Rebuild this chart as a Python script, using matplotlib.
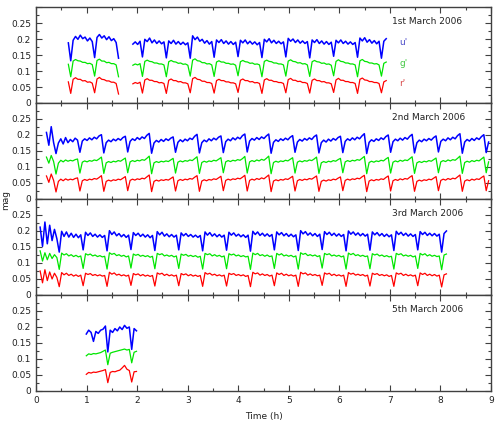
import numpy as np
import matplotlib

matplotlib.use("Agg")
import matplotlib.pyplot as plt
from matplotlib.ticker import FuncFormatter, MultipleLocator

# light-curve samples, milli-mag, on a uniform grid per night
STEP_H = 0.04727  # one tenth of the ~28.4 min cycle
NIGHTS = ["1st March 2006", "2nd March 2006", "3rd March 2006", "5th March 2006"]
NIGHT_START_H = [0.640, 0.207, 0.082, 0.995]
BANDS = ["u'", "g'", "r'"]

U1 = [188,
      132, 196, 208, 199, 212, 201, 206, 194, 203, 192,
      142, 205, 214, 203, 210, 198, 207, 195, 201, 189,
      140, None, None, None, None, None, 184, 191, 183, 193,
      144, 199, 192, 203, 188, 197, 186, 194, 185, 191,
      141, 194, 186, 196, 184, 192, 183, 190, 182, 188,
      140, 210, 198, 206, 193, 199, 187, 195, 184, 192,
      143, 197, 189, 198, 186, 194, 184, 192, 183, 190,
      145, 196, 188, 197, 185, 193, 184, 191, 182, 189,
      142, 199, 191, 201, 188, 196, 186, 193, 185, 191,
      144, 202, 193, 200, 189, 197, 187, 194, 186, 192,
      141, 197, 189, 198, 186, 194, 184, 192, 183, 190,
      146, 196, 188, 197, 186, 193, 184, 191, 183, 189,
      143, 203, 194, 204, 190, 198, 187, 195, 185, 193,
      140, 193, 201]
G1 = [121,
      82, 131, 136, 132, 131, 127, 127, 123, 124, 120,
      84, 133, 137, 131, 131, 126, 127, 123, 123, 119,
      82, None, None, None, None, None, 118, 122, 119, 123,
      83, 130, 134, 130, 129, 125, 125, 122, 122, 119,
      82, 129, 133, 129, 128, 124, 125, 121, 122, 118,
      84, 134, 138, 132, 131, 126, 126, 122, 123, 119,
      83, 128, 132, 128, 128, 124, 124, 121, 122, 118,
      85, 129, 133, 129, 128, 124, 125, 121, 122, 119,
      82, 130, 134, 130, 129, 125, 125, 122, 122, 119,
      84, 131, 135, 130, 129, 125, 126, 122, 123, 119,
      83, 129, 133, 129, 128, 124, 125, 121, 122, 118,
      85, 130, 135, 130, 129, 125, 125, 122, 122, 119,
      82, 132, 136, 130, 129, 125, 125, 122, 123, 119,
      84, 124, 128]
R1 = [66,
      30, 74, 79, 74, 74, 69, 70, 65, 66, 62,
      32, 75, 80, 74, 73, 69, 69, 65, 65, 61,
      28, None, None, None, None, None, 60, 64, 61, 65,
      31, 72, 76, 71, 71, 67, 67, 63, 64, 61,
      30, 71, 75, 70, 70, 66, 67, 63, 63, 60,
      32, 76, 80, 74, 73, 68, 68, 64, 64, 61,
      31, 70, 74, 70, 70, 66, 66, 63, 63, 60,
      33, 71, 75, 70, 70, 66, 67, 63, 64, 61,
      30, 72, 76, 71, 71, 67, 67, 64, 64, 61,
      32, 73, 77, 71, 71, 67, 68, 64, 64, 61,
      31, 71, 75, 70, 70, 66, 67, 63, 63, 60,
      33, 72, 77, 71, 71, 67, 67, 64, 64, 61,
      30, 74, 78, 72, 71, 67, 67, 64, 64, 61,
      32, 66, 70]

U2 = [208, 168, 226, 176,
      142, 175, 188, 172, 192, 176, 186, 179, 190, 184,
      146, 181, 188, 183, 191, 185, 193, 188, 197, 201,
      144, 176, 184, 179, 187, 182, 189, 184, 192, 196,
      147, 180, 188, 183, 192, 186, 194, 189, 199, 205,
      143, 175, 183, 178, 186, 180, 188, 183, 190, 194,
      146, 177, 185, 179, 187, 182, 190, 186, 196, 202,
      144, 176, 184, 179, 188, 182, 190, 185, 193, 197,
      145, 179, 187, 182, 191, 185, 193, 188, 198, 203,
      147, 181, 189, 184, 192, 186, 194, 189, 197, 203,
      143, 177, 185, 180, 188, 183, 190, 185, 193, 198,
      146, 178, 186, 181, 189, 184, 191, 186, 195, 200,
      144, 176, 184, 178, 187, 181, 189, 184, 192, 196,
      145, 180, 188, 183, 191, 185, 193, 188, 197, 204,
      142, 177, 185, 180, 188, 183, 191, 186, 195, 200,
      146, 179, 187, 182, 190, 184, 192, 187, 196, 202,
      144, 176, 184, 179, 187, 182, 189, 184, 192, 197,
      147, 180, 187, 182, 191, 185, 193, 188, 198, 204,
      143, 178, 186, 181, 189, 183, 191, 186, 195, 201,
      145, 178]
G2 = [131, 112, 136, 117,
      78, 112, 121, 116, 122, 118, 121, 119, 123, 125,
      81, 115, 119, 116, 120, 118, 122, 120, 125, 131,
      80, 113, 117, 114, 118, 116, 120, 118, 123, 128,
      82, 116, 120, 117, 121, 119, 123, 121, 127, 134,
      79, 113, 117, 114, 118, 116, 119, 117, 122, 127,
      81, 115, 119, 116, 120, 118, 122, 120, 126, 132,
      80, 114, 118, 115, 119, 117, 121, 119, 124, 129,
      82, 116, 120, 117, 121, 119, 123, 121, 126, 133,
      81, 116, 120, 117, 122, 119, 124, 121, 127, 134,
      79, 114, 118, 115, 119, 117, 121, 119, 124, 129,
      81, 115, 119, 116, 120, 118, 122, 120, 125, 131,
      80, 113, 117, 114, 118, 116, 120, 118, 123, 127,
      82, 116, 120, 117, 121, 119, 123, 121, 127, 133,
      79, 114, 118, 115, 119, 117, 121, 119, 125, 130,
      81, 115, 119, 116, 121, 118, 122, 120, 126, 132,
      80, 113, 117, 114, 118, 116, 120, 118, 123, 128,
      82, 116, 120, 117, 122, 119, 123, 121, 127, 134,
      80, 114, 118, 115, 120, 117, 121, 119, 125, 131,
      82, 116]
R2 = [72, 52, 78, 58,
      22, 55, 62, 57, 63, 59, 62, 60, 64, 66,
      25, 57, 61, 58, 62, 60, 64, 62, 67, 73,
      24, 55, 59, 56, 60, 58, 62, 60, 65, 70,
      26, 58, 62, 59, 63, 61, 65, 63, 69, 75,
      23, 55, 59, 56, 60, 58, 61, 59, 64, 69,
      25, 57, 61, 58, 62, 60, 64, 62, 68, 73,
      24, 56, 60, 57, 61, 59, 63, 61, 66, 71,
      26, 58, 62, 59, 63, 61, 65, 63, 68, 74,
      25, 58, 62, 59, 64, 61, 66, 63, 69, 75,
      23, 56, 60, 57, 61, 59, 63, 61, 66, 71,
      25, 57, 61, 58, 62, 60, 64, 62, 67, 72,
      24, 55, 59, 56, 60, 58, 62, 60, 65, 69,
      26, 58, 62, 59, 63, 61, 65, 63, 69, 74,
      23, 56, 60, 57, 61, 59, 63, 61, 67, 72,
      25, 57, 61, 58, 63, 60, 64, 62, 68, 73,
      24, 55, 59, 56, 60, 58, 62, 60, 65, 70,
      26, 58, 62, 59, 64, 61, 65, 63, 69, 75,
      24, 56, 60, 57, 62, 59, 63, 61, 67, 72,
      26, 57]

U3 = [212, 152, 228, 160, 218, 170, 205, 176,
      134, 199, 183, 197, 181, 193, 180, 190, 179, 188,
      141, 196, 186, 194, 183, 190, 181, 188, 180, 186,
      138, 201, 189, 197, 185, 192, 182, 189, 180, 187,
      142, 195, 186, 193, 183, 190, 181, 188, 179, 186,
      139, 198, 188, 196, 184, 191, 182, 189, 181, 187,
      141, 194, 185, 192, 183, 189, 181, 187, 180, 186,
      138, 197, 187, 195, 184, 191, 182, 189, 181, 187,
      140, 196, 187, 194, 184, 190, 182, 188, 180, 187,
      137, 199, 189, 197, 186, 193, 184, 191, 183, 189,
      141, 197, 188, 195, 185, 192, 183, 190, 182, 188,
      139, 201, 191, 198, 187, 194, 185, 192, 183, 190,
      142, 198, 189, 196, 186, 193, 184, 191, 183, 189,
      138, 200, 190, 197, 187, 194, 185, 192, 184, 190,
      140, 197, 188, 195, 185, 192, 183, 190, 182, 188,
      139, 199, 189, 196, 186, 193, 184, 191, 183, 189,
      141, 198, 189, 196, 186, 193, 185, 192, 184, 190,
      134, 192, 200]
G3 = [138, 106, 132, 110, 130, 114, 126, 117,
      80, 131, 125, 129, 122, 126, 120, 124, 119, 122,
      83, 129, 125, 128, 122, 125, 120, 123, 119, 121,
      81, 132, 127, 130, 123, 126, 121, 124, 119, 122,
      84, 128, 124, 127, 121, 124, 120, 123, 118, 121,
      82, 130, 126, 129, 122, 125, 121, 124, 119, 122,
      83, 128, 124, 127, 121, 124, 120, 123, 118, 121,
      81, 130, 126, 129, 122, 126, 121, 124, 119, 122,
      82, 129, 125, 128, 122, 125, 120, 123, 119, 121,
      80, 131, 126, 130, 123, 126, 121, 125, 120, 122,
      83, 130, 125, 129, 122, 125, 121, 124, 119, 122,
      81, 132, 127, 130, 123, 126, 122, 125, 120, 123,
      84, 130, 126, 129, 122, 125, 121, 124, 119, 122,
      81, 131, 126, 130, 123, 126, 121, 124, 120, 122,
      82, 129, 125, 128, 122, 125, 120, 123, 119, 121,
      81, 130, 126, 129, 122, 125, 121, 124, 119, 122,
      83, 130, 125, 129, 122, 126, 121, 124, 120, 122,
      79, 125, 128]
R3 = [75, 38, 79, 45, 72, 50, 68, 55,
      26, 70, 63, 68, 61, 65, 59, 63, 58, 62,
      29, 68, 64, 67, 61, 64, 60, 63, 59, 61,
      27, 71, 65, 69, 62, 65, 60, 63, 59, 62,
      30, 67, 63, 66, 60, 64, 59, 62, 58, 61,
      28, 69, 65, 68, 61, 65, 60, 63, 59, 62,
      29, 67, 63, 66, 60, 64, 59, 62, 58, 61,
      27, 70, 65, 68, 62, 65, 60, 63, 59, 62,
      28, 68, 64, 67, 61, 64, 60, 63, 58, 61,
      26, 71, 66, 69, 62, 66, 61, 64, 59, 62,
      29, 69, 64, 68, 61, 65, 60, 63, 59, 62,
      27, 71, 66, 69, 62, 66, 61, 64, 60, 62,
      30, 69, 65, 68, 61, 65, 60, 63, 59, 62,
      27, 70, 65, 68, 62, 65, 61, 64, 59, 62,
      28, 68, 64, 67, 61, 64, 60, 63, 58, 61,
      27, 69, 65, 68, 61, 65, 60, 63, 59, 62,
      29, 69, 64, 68, 61, 65, 60, 64, 59, 62,
      25, 63, 66]

U4 = [178, 190, 183, 155, 186, 180, 190, 193, 203, 122, 190,
      183, 195, 188, 200, 192, 205, 196, 200, 130, 195, 188]
G4 = [110, 116, 114, 117, 116, 118, 120, 124, 128, 82, 118,
      121, 123, 125, 127, 129, 131, 128, 130, 88, 121, 124]
R4 = [52, 58, 56, 59, 58, 60, 62, 64, 67, 26, 58,
      61, 60, 63, 65, 72, 80, 68, 64, 28, 60, 61]

SERIES = [(U1, G1, R1), (U2, G2, R2), (U3, G3, R3), (U4, G4, R4)]

LINE_COLOURS = ["#0000ff", "#00e600", "#ff0000"]
LABEL_COLOURS = ["#4a4ac8", "#44c844", "#d84a4a"]
FRAME = "#404040"


def style_axis(ax):
    ax.set_xlim(0, 9)
    ax.set_ylim(0, 0.3)
    ax.xaxis.set_major_locator(MultipleLocator(1))
    ax.xaxis.set_minor_locator(MultipleLocator(0.5))
    ax.yaxis.set_major_locator(MultipleLocator(0.05))
    ax.yaxis.set_minor_locator(MultipleLocator(0.025))
    ax.yaxis.set_major_formatter(FuncFormatter(lambda v, _: "" if v > 0.26 else f"{v:g}"))
    ax.tick_params(which="both", direction="in", top=True, right=True, colors=FRAME,
                   labelcolor="#222222", labelsize=6.5, width=0.8)
    ax.tick_params(which="major", length=4.5)
    ax.tick_params(which="minor", length=2.5)
    for sp in ax.spines.values():
        sp.set_color(FRAME)
        sp.set_linewidth(1.0)


fig = plt.figure(figsize=(4.97, 4.22), dpi=100, facecolor="white")
axes = fig.subplots(4, 1, sharex=True, gridspec_kw=dict(hspace=0))
fig.subplots_adjust(left=0.0724, right=0.988, top=0.9834, bottom=0.0735)

for ax, night, t0, bands in zip(axes, NIGHTS, NIGHT_START_H, SERIES):
    for vals, colour, lw in zip(bands, LINE_COLOURS, [1.1, 0.9, 0.9]):
        mag = np.array(vals, dtype=float) / 1000.0
        t = t0 + STEP_H * np.arange(len(mag))
        ax.plot(t, mag, color=colour, lw=lw)
    ax.text(7.05, 0.255, night, fontsize=6.5, color="#222222", va="center")
    style_axis(ax)

for name, y, colour in zip(BANDS, [0.19, 0.125, 0.062], LABEL_COLOURS):
    axes[0].text(7.18, y, name, fontsize=6.5, color=colour, va="center")

axes[-1].set_xlabel("Time (h)", fontsize=6.5, color="#222222", labelpad=5)
fig.text(0.012, 0.526, "mag", rotation=90, fontsize=6.5, color="#222222", va="center", ha="center")

fig.savefig("out.png", dpi=100)
